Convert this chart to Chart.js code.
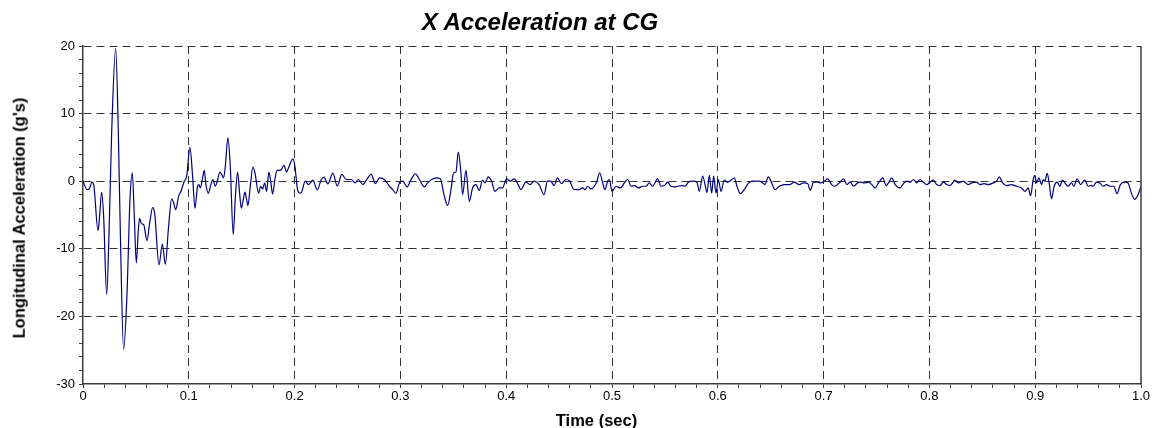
<!DOCTYPE html>
<html>
<head>
<meta charset="utf-8">
<title>X Acceleration at CG</title>
<script src="https://cdn.jsdelivr.net/npm/chart.js@4.4.1/dist/chart.umd.min.js"></script>
<style>
    html, body { margin: 0; padding: 0; background: #fff; }
    #wrap { width: 1157px; height: 428px; position: relative; }
    .lbl {
        position: absolute;
        font-family: 'Liberation Sans', Arial, Helvetica, sans-serif;
        font-weight: bold;
        color: #000;
        line-height: 1;
        white-space: nowrap;
        transform: translate(-50%, -50%);
    }
    #chart-title { left: 540px; top: 21.7px; font-size: 24px; font-style: italic; }
    #x-title     { left: 596.5px; top: 420px; font-size: 16.5px; }
    #y-title     { left: 19.3px; top: 217.5px; font-size: 16.5px; transform: translate(-50%, -50%) rotate(-90deg); }
</style>
</head>
<body>
<div id="wrap">
    <canvas id="chart"></canvas>
    <div class="lbl" id="chart-title">X Acceleration at CG</div>
    <div class="lbl" id="x-title">Time (sec)</div>
    <div class="lbl" id="y-title">Longitudinal Acceleration (g's)</div>
</div>
<script>
// ── DATA ──
const timeSec = [
    0, 0.0038, 0.006, 0.0085, 0.0101, 0.0142, 0.0157, 0.0176, 0.0195, 0.0224,
    0.0246, 0.0271, 0.0309, 0.0334, 0.0353, 0.0384, 0.0416, 0.0444, 0.0466, 0.0485,
    0.0504, 0.0523, 0.0535, 0.0554, 0.0573, 0.0605, 0.063, 0.0658, 0.0677, 0.0718,
    0.075, 0.0778, 0.0809, 0.0838, 0.0857, 0.0876, 0.0904, 0.0926, 0.0957, 0.098,
    0.1011, 0.1036, 0.1058, 0.1083, 0.1096, 0.1109, 0.1128, 0.1146, 0.1162, 0.1184,
    0.1209, 0.1228, 0.125, 0.1269, 0.1294, 0.131, 0.1329, 0.1345, 0.137, 0.1392,
    0.142, 0.1439, 0.1461, 0.148, 0.1496, 0.1515, 0.1531, 0.1546, 0.1559, 0.1581,
    0.1606, 0.1625, 0.166, 0.1679, 0.1698, 0.1717, 0.1735, 0.1757, 0.1776, 0.1792,
    0.1814, 0.1833, 0.1858, 0.1877, 0.1899, 0.1924, 0.1943, 0.1984, 0.2003, 0.2028,
    0.205,
    0.2063, 0.2101, 0.2132, 0.2173, 0.2214, 0.2252, 0.2277, 0.2314, 0.2362, 0.2403,
    0.2447, 0.2487, 0.2535, 0.2572, 0.2604, 0.2645, 0.2686, 0.2723, 0.2764, 0.2802,
    0.2849, 0.2896, 0.2928, 0.2959, 0.2991, 0.3022, 0.3063, 0.3101, 0.3142, 0.3179,
    0.3226, 0.3258, 0.3296, 0.3336, 0.3377, 0.3415, 0.3447, 0.3478, 0.3503, 0.3525,
    0.3547, 0.3572, 0.3588, 0.362, 0.3651, 0.3682, 0.3714, 0.3745, 0.3777, 0.3799,
    0.383, 0.3862, 0.3893, 0.3934, 0.3965, 0.4003, 0.4038, 0.4075, 0.4113, 0.4138,
    0.4186, 0.4226, 0.4264, 0.4311, 0.4358, 0.439, 0.4421, 0.4453, 0.4484, 0.4522,
    0.4563, 0.4601, 0.4635, 0.4667,
    0.4691, 0.4723, 0.4745, 0.477, 0.4802, 0.4833, 0.4858, 0.4883, 0.4912, 0.4934,
    0.4959, 0.4975, 0.5, 0.5038, 0.5079, 0.5117, 0.5148, 0.518, 0.5217, 0.5249,
    0.529, 0.5321, 0.5353, 0.5384, 0.5431, 0.5463, 0.5494, 0.5526, 0.5557, 0.5589,
    0.562, 0.5658, 0.569, 0.5721, 0.5762, 0.5803, 0.5825, 0.5857, 0.5879, 0.5898,
    0.592, 0.5942, 0.5961, 0.5983, 0.6005, 0.603, 0.6061, 0.6093, 0.6124, 0.6156,
    0.6181, 0.6213, 0.625, 0.6298, 0.6345, 0.6392, 0.6424, 0.6446, 0.6477, 0.6509,
    0.654, 0.6581, 0.6628, 0.6676, 0.6723, 0.677, 0.6811, 0.6849, 0.6874, 0.6906,
    0.6943, 0.6975, 0.7006, 0.7038, 0.7076, 0.7107, 0.7148, 0.7189, 0.722, 0.7252,
    0.7283, 0.7321, 0.7353,
    0.7384, 0.7425, 0.7456, 0.7487, 0.7519, 0.756, 0.7591, 0.7613, 0.7645, 0.7676,
    0.7723, 0.7755, 0.7786, 0.7818, 0.7849, 0.7881, 0.7912, 0.7943, 0.7975, 0.8006,
    0.8038, 0.8069, 0.8101, 0.8132, 0.8164, 0.8195, 0.8242, 0.8274, 0.8321, 0.8368,
    0.8399, 0.8447, 0.8478, 0.8516, 0.8557, 0.8604, 0.8635, 0.866, 0.8692, 0.873,
    0.8777, 0.8824, 0.8871, 0.8903, 0.8934, 0.8956, 0.8981, 0.8997, 0.9013, 0.9035,
    0.906, 0.9075, 0.9091, 0.9113, 0.9132, 0.9154, 0.9179, 0.9208, 0.9233, 0.9258,
    0.928, 0.9311, 0.9343, 0.9365, 0.9396, 0.9428, 0.9469, 0.95, 0.9522, 0.9547,
    0.9579, 0.961, 0.9642, 0.9673, 0.9711, 0.9742, 0.9774, 0.9805, 0.9846, 0.9877,
    0.9909, 0.994, 0.9972, 1.0
];

const accelG = [
    0, -1.25, -1.15, -0.15, -0.5, -7.3, -5.2, -1.6, -5.2, -16.8,
    -7.7, 7.2, 19.65, 7.2, -7.7, -24.9, -16.6, -2.7, 1.25, -5.2,
    -12.1, -7.2, -5.5, -6.3, -6.4, -8.8, -6.2, -3.9, -4.7, -12.4,
    -9.3, -12.3, -6.7, -2.6, -3.2, -4.2, -2.2, -1.5, 0, 0.75,
    5.0, 0.75, -4.0, -0.75, -0.5, -1.0, 0.25, 1.6, -0.5, -1.75,
    -0.5, 0.25, -0.75, 0, 1.35, 1.0, 0.5, 2.2, 6.45, 2.2,
    -7.9, -2.7, 1.35, -1.75, -4.0, -2.7, -1.6, -2.7, -3.6, -0.75,
    2.1, 1.25, -1.75, -0.75, -1.15, -0.25, -1.5, 1.35, -0.25, -1.9,
    0.25, 1.6, 1.6, 1.75, 2.4, 1.35, 2.0, 3.3, 2.2, -1.25,
    -1.75,
    -1.7, 0, -0.5, 0.15, -1.3, 0.25, 0.6, -0.4, 1.2, -0.7,
    1.0, 0.25, 0.25, -0.25, 0.25, -0.5, 0.35, 1.0, -0.35, 0.5,
    0.25, -0.75, -1.25, -1.8, -0.25, 0, -0.85, 0.25, 1.1, 0.25,
    -0.85, -0.25, 0.25, 0.5, 0.35, -2.2, -3.6, -1.25, 1.25, 1.35,
    4.3, 1.25, -2.0, 1.6, -3.0, -1.0, -0.5, -1.35, 0.15, -0.25,
    0.65, 0, -1.5, -1.0, -1.0, 0.35, 0, 0.35, -0.5, -1.25,
    -0.15, -0.5, 0, -0.5, -2.0, 0, 0, -0.65, 0.5, -0.35,
    0.25, 0, -1.15, -1.25,
    -1.25, -1.0, -1.25, -0.75, -1.15, -0.75, 0, 1.25, -0.25, -1.25,
    0, 0.25, -1.5, -0.75, -1.0, -0.25, 0.25, -0.75, -0.65, -1.0,
    -0.75, -0.75, -0.25, -0.75, 0.35, -0.75, -0.65, -0.15, -0.75, -0.85,
    -0.75, -0.65, -0.75, -0.15, 0, -0.15, -1.5, 0.75, -0.5, -1.65,
    0.85, -1.75, 0.75, -1.75, 0.25, -1.5, 0.15, -0.15, 0.15, 0.5,
    -0.75, -1.85, -1.25, -0.15, 0, 0, -0.25, -0.5, 0.65, -0.25,
    -1.25, -0.75, -0.5, -0.5, -0.15, -0.5, -0.25, -0.35, -1.35, -0.15,
    -0.15, -0.25, 0, 0.35, -0.5, -0.75, -0.25, 0.35, -0.5, -0.15,
    -0.75, -0.25, -0.15,
    -0.25, -0.15, -0.5, -1.0, -0.25, 0.5, -0.65, -0.25, 0.5, -0.5,
    -1.0, -0.35, 0, -0.15, 0.25, -0.25, 0.25, -0.15, -0.5, -0.15,
    0.15, -0.5, -0.65, -0.15, -0.5, -0.65, 0.15, -0.25, 0, -0.5,
    -0.25, -0.15, -0.5, -0.35, -0.5, -0.25, 0, 0.65, -0.25, -0.65,
    -0.5, -0.75, -1.0, -1.5, -1.0, -2.15, 0.25, 0.85, -0.25, 0.5,
    -0.5, 0.25, 0, 1.15, -0.25, -2.6, -0.75, -0.15, -0.75, 0.15,
    -0.25, -0.75, -0.25, -0.75, 0.35, -0.5, 0.15, -0.75, -0.65, -0.75,
    -0.15, -0.25, -0.75, -0.5, -0.75, -0.75, -1.85, -0.5, -0.15, -0.25,
    -1.75, -2.7, -2.0, -0.75
];

// ── AXES ──
const X_MIN = 0, X_MAX = 1.0, X_MINOR = 0.02;
const Y_MIN = -30, Y_MAX = 20, Y_MINOR = 2;

const FONT = "'Liberation Sans', Arial, Helvetica, sans-serif";
const GRID_DASH = "#333";
const AXIS_GREY = "#3c3c3c";

function isMajorX(v) { return Math.round(v * 50) % 5 === 0; }
function isMajorY(v) { return Math.round(v) % 10 === 0; }

// bord droit plein
const framePlugin = {
    id: "frame",
    afterDraw(chart) {
        const a = chart.chartArea;
        const ctx = chart.ctx;
        ctx.save();
        ctx.strokeStyle = AXIS_GREY;
        ctx.lineWidth = 1.5;
        ctx.beginPath();
        ctx.moveTo(a.right, a.top);
        ctx.lineTo(a.right, a.bottom);
        ctx.stroke();
        ctx.restore();
    }
};

const points = timeSec.map((t, i) => ({ x: t, y: accelG[i] }));

new Chart(document.getElementById("chart"), {
    type: "line",
    data: {
        datasets: [{
            label: "X Acceleration",
            data: points,
            borderColor: "#00007f",
            borderWidth: 1.2,
            pointRadius: 0,
            cubicInterpolationMode: "monotone",
            fill: false
        }]
    },
    options: {
        responsive: true,
        maintainAspectRatio: false,
        animation: false,
        layout: { padding: { left: 0, right: 16, top: 46, bottom: 0 } },
        plugins: {
            legend: { display: false },
            tooltip: { enabled: false },
            title: { display: false }
        },
        scales: {
            x: {
                type: "linear",
                min: X_MIN, max: X_MAX,
                afterFit: s => { s.height = 44; },
                ticks: {
                    stepSize: X_MINOR,
                    autoSkip: false,
                    maxRotation: 0,
                    padding: 1,
                    color: "#000",
                    font: { family: FONT, size: 13 },
                    callback: v => isMajorX(v) ? (Math.abs(v) < 1e-9 ? "0" : v.toFixed(1)) : ""
                },
                grid: {
                    color: ctx => {
                        const v = ctx.tick ? ctx.tick.value : 0;
                        if (!isMajorX(v) || v <= X_MIN + 1e-9 || v >= X_MAX - 1e-9) return "rgba(0,0,0,0)";
                        return GRID_DASH;
                    },
                    tickColor: AXIS_GREY,
                    tickLength: 4,
                    lineWidth: 1
                },
                border: { display: true, color: AXIS_GREY, width: 1.5, dash: [8, 5] }
            },
            y: {
                min: Y_MIN, max: Y_MAX,
                afterFit: s => { s.width = 83; },
                ticks: {
                    stepSize: Y_MINOR,
                    autoSkip: false,
                    padding: 4,
                    color: "#000",
                    font: { family: FONT, size: 13 },
                    callback: v => isMajorY(v) ? String(v) : ""
                },
                grid: {
                    color: ctx => {
                        const v = ctx.tick ? ctx.tick.value : 0;
                        if (!isMajorY(v) || v <= Y_MIN) return "rgba(0,0,0,0)";
                        return GRID_DASH;
                    },
                    tickColor: AXIS_GREY,
                    tickLength: 4,
                    lineWidth: 1
                },
                border: { display: true, color: AXIS_GREY, width: 1.5, dash: [8, 5] }
            }
        }
    },
    plugins: [framePlugin]
});
</script>
</body>
</html>
